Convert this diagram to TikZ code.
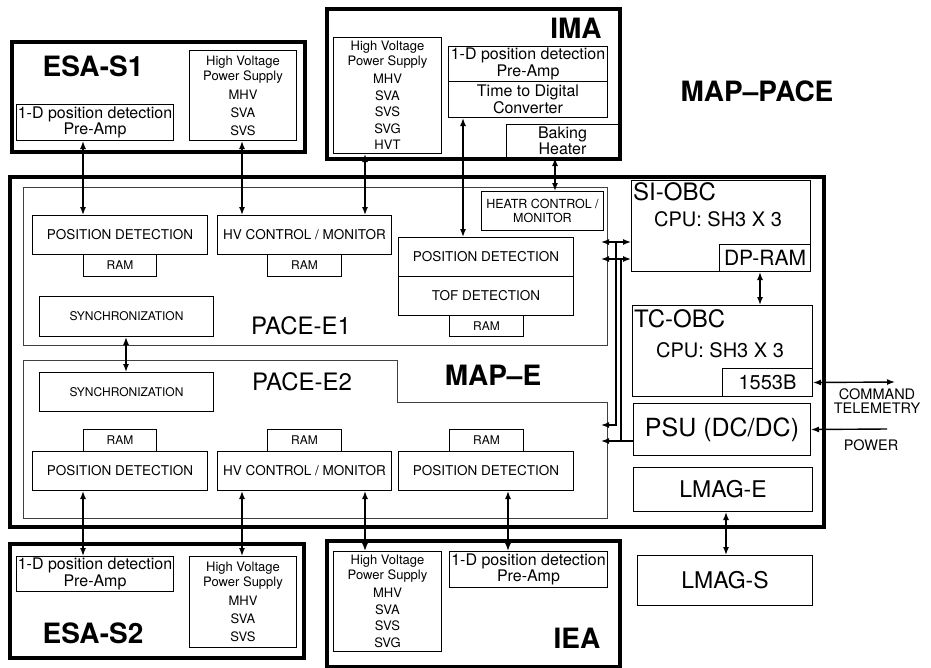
\documentclass[tikz,border=0pt]{standalone}
\usepackage{fontspec}
\setmainfont{TeX Gyre Heros}
\usetikzlibrary{arrows.meta,calc}
\begin{document}
\begin{tikzpicture}[x=1pt,y=-1pt,
 outerbox/.style={draw, line width=3.6pt, inner sep=0pt, anchor=north west},
 box/.style={draw, line width=1pt, inner sep=0pt, anchor=north west, align=center},
 grp/.style={draw=black!75, line width=1pt},
 conn/.style={line width=1.4pt, {Latex[length=8pt,width=6pt]}-{Latex[length=8pt,width=6pt]}},
 oneway/.style={line width=1.4pt, -{Latex[length=8pt,width=6pt]}},
 plainline/.style={line width=1.4pt},
 ttl/.style={font=\fontsize{28}{30}\selectfont\bfseries, inner sep=0pt},
 fmid/.style={font=\fontsize{13.5}{15}\selectfont},
 fsmall/.style={font=\fontsize{12}{14}\selectfont},
 fpre/.style={font=\fontsize{16}{16.5}\selectfont},
 fhv/.style={font=\fontsize{13}{15}\selectfont},
 fbig/.style={font=\fontsize{21}{24}\selectfont},
 fhuge/.style={font=\fontsize{24}{26}\selectfont},
 fext/.style={font=\fontsize{14.5}{14}\selectfont, align=center, inner sep=0pt}
]
\useasboundingbox (0,0) rectangle (931,667);

% ---------- ESA-S1 ----------
\node[outerbox, minimum width=293pt, minimum height=110pt] (esa1) at (10,40) {};
\node[ttl] (esa1lbl) at (93,66) {ESA-S1};
\node[box, fpre, minimum width=157pt, minimum height=36pt] (esa1pre) at (16,104) {1-D position detection\\Pre-Amp};
\node[box, fhv, minimum width=107pt, minimum height=90pt] (esa1hv) at (189,50) {High Voltage\\Power Supply\\[4pt]MHV\\[3pt]SVA\\[3pt]SVS};

% ---------- IMA ----------
\node[outerbox, minimum width=293pt, minimum height=150pt] (ima) at (325,7) {};
\node[ttl] (imalbl) at (576,28) {IMA};
\node[box, fhv, minimum width=108pt, minimum height=116pt] (imahv) at (333,37) {High Voltage\\Power Supply\\[3pt]MHV\\[1.5pt]SVA\\[1.5pt]SVS\\[1.5pt]SVG\\[1.5pt]HVT};
\node[box, fpre, minimum width=159pt, minimum height=35pt] (imapre) at (448,46) {1-D position detection\\Pre-Amp};
\node[box, fpre, minimum width=159pt, minimum height=36pt] (imatdc) at (448,81) {Time to Digital\\Converter};
\node[box, fpre, minimum width=112pt, minimum height=33pt] (imabake) at (506,124) {Baking\\Heater};

\node[ttl] (mappace) at (757,91) {MAP{\normalfont\bfseries--}PACE};

% ---------- MAP-E ----------
\node[outerbox, minimum width=814pt, minimum height=350pt] (mape) at (8,175) {};
\node[ttl] (mapelbl) at (493,375) {MAP--E};

% PACE-E1
\draw[grp] (23,187) rectangle (607,345);
\node[fhuge, inner sep=0pt] (pace1lbl) at (301,326) {PACE-E1};
\node[box, fmid, minimum width=175pt, minimum height=39pt] (pd1) at (32,215) {POSITION DETECTION};
\node[box, fsmall, minimum width=73pt, minimum height=22pt] (ram1) at (83,254) {RAM};
\node[box, fmid, minimum width=174pt, minimum height=39pt] (hv1) at (217,215) {HV CONTROL / MONITOR};
\node[box, fsmall, minimum width=74pt, minimum height=22pt] (ram2) at (267,254) {RAM};
\node[box, fsmall, minimum width=174pt, minimum height=40pt] (sync1) at (39,296) {SYNCHRONIZATION};
\node[box, font=\fontsize{12.5}{13.5}\selectfont, minimum width=122pt, minimum height=39pt] (heatr) at (481,191) {HEATR CONTROL /\\MONITOR};
\node[box, fmid, minimum width=175pt, minimum height=39pt] (pos1) at (398,237) {POSITION DETECTION};
\node[box, fmid, minimum width=175pt, minimum height=39pt] (tof1) at (398,276) {TOF DETECTION};
\node[box, fsmall, minimum width=74pt, minimum height=21pt] (ram3) at (449,315) {RAM};

% PACE-E2
\draw[grp] (23,360) -- (397,360) -- (397,402) -- (607,402) -- (607,518) -- (23,518) -- cycle;
\node[fhuge, inner sep=0pt] (pace2lbl) at (302,382) {PACE-E2};
\node[box, fsmall, minimum width=174pt, minimum height=39pt] (sync2) at (39,372) {SYNCHRONIZATION};
\node[box, fsmall, minimum width=73pt, minimum height=22pt] (ram4) at (83,429) {RAM};
\node[box, fmid, minimum width=175pt, minimum height=39pt] (pd2) at (32,451) {POSITION DETECTION};
\node[box, fsmall, minimum width=74pt, minimum height=22pt] (ram5) at (267,429) {RAM};
\node[box, fmid, minimum width=174pt, minimum height=39pt] (hv2) at (217,451) {HV CONTROL / MONITOR};
\node[box, fsmall, minimum width=74pt, minimum height=22pt] (ram6) at (449,429) {RAM};
\node[box, fmid, minimum width=175pt, minimum height=39pt] (pd3) at (398,451) {POSITION DETECTION};

% SI-OBC
\node[box, minimum width=179pt, minimum height=91pt] (siobc) at (631,180) {};
\node[fhuge, anchor=west, inner sep=0pt] (siobclbl) at (633,192) {SI-OBC};
\node[font=\fontsize{20}{22}\selectfont, inner sep=0pt] (sicpu) at (718,219) {CPU: SH3 X 3};
\node[box, fbig, minimum width=91pt, minimum height=27pt] (dpram) at (719,244) {DP-RAM};

% TC-OBC
\node[box, minimum width=180pt, minimum height=91pt] (tcobc) at (632,305) {};
\node[fhuge, anchor=west, inner sep=0pt] (tcobclbl) at (634,319) {TC-OBC};
\node[font=\fontsize{20}{22}\selectfont, inner sep=0pt] (tccpu) at (720,350) {CPU: SH3 X 3};
\node[box, font=\fontsize{20}{22}\selectfont, minimum width=90pt, minimum height=28pt] (b1553) at (722,368) {1553B};

\node[box, font=\fontsize{25}{27}\selectfont, minimum width=177pt, minimum height=52pt] (psu) at (633,403) {PSU (DC/DC)};
\node[box, font=\fontsize{23}{25}\selectfont, minimum width=179pt, minimum height=44pt] (lmage) at (633,467) {LMAG-E};
\node[box, font=\fontsize{23}{25}\selectfont, minimum width=175pt, minimum height=50pt] (lmags) at (637,555) {LMAG-S};

% ---------- ESA-S2 ----------
\node[outerbox, minimum width=294pt, minimum height=114pt] (esa2) at (8,542) {};
\node[ttl] (esa2lbl) at (93,633) {ESA-S2};
\node[box, fpre, minimum width=157pt, minimum height=35pt] (esa2pre) at (16,556) {1-D position detection\\Pre-Amp};
\node[box, fhv, minimum width=107pt, minimum height=91pt] (esa2hv) at (189,556) {High Voltage\\Power Supply\\[4pt]MHV\\[3pt]SVA\\[3pt]SVS};

% ---------- IEA ----------
\node[outerbox, minimum width=293pt, minimum height=126pt] (iea) at (325,539) {};
\node[ttl] (iealbl) at (577,638) {IEA};
\node[box, fhv, minimum width=108pt, minimum height=100pt] (ieahv) at (333,551) {High Voltage\\Power Supply\\[3pt]MHV\\[1.5pt]SVA\\[1.5pt]SVS\\[1.5pt]SVG};
\node[box, fpre, minimum width=158pt, minimum height=36pt] (ieapre) at (449,551) {1-D position detection\\Pre-Amp};

% ---------- external labels ----------
\node[fext] (cmdlbl) at (877,401) {COMMAND\\TELEMETRY};
\node[fext] (pwrlbl) at (871,445) {POWER};

% ---------- connector coordinates ----------
\coordinate (cA) at (83,0);
\coordinate (cB) at (242,0);
\coordinate (cC) at (365,0);
\coordinate (cD) at (463,0);
\coordinate (cE) at (555,0);
\coordinate (cF) at (126,0);
\coordinate (cG) at (508,0);
\coordinate (cH) at (760,0);
\coordinate (cI) at (726,0);
\coordinate (busL) at (601,0);
\coordinate (ya) at (0,242);
\coordinate (yb) at (0,259);
\coordinate (v1) at (616,242);
\coordinate (v2) at (621,259);
\coordinate (t1) at (601,425);
\coordinate (t2) at (601,441);
\coordinate (cmd) at (895,382);
\coordinate (pw) at (887,429);

\draw[conn] (esa1pre.south -| cA) -- (pd1.north -| cA);
\draw[conn] (esa1hv.south -| cB) -- (hv1.north -| cB);
\draw[conn] (imahv.south -| cC) -- (hv1.north -| cC);
\draw[conn] (imatdc.south -| cD) -- (pos1.north -| cD);
\draw[conn] (imabake.south -| cE) -- (heatr.north -| cE);
\draw[conn] (sync1.south -| cF) -- (sync2.north -| cF);
\draw[conn] (pd2.south -| cA) -- (esa2pre.north -| cA);
\draw[conn] (hv2.south -| cB) -- (esa2hv.north -| cB);
\draw[conn] (hv2.south -| cC) -- (ieahv.north -| cC);
\draw[conn] (pd3.south -| cG) -- (ieapre.north -| cG);
\draw[conn] (dpram.south -| cH) -- (tcobc.north -| cH);
\draw[conn] (lmage.south -| cI) -- (lmags.north -| cI);

\draw[conn] (busL |- ya) -- (siobc.west |- ya);
\draw[conn] (busL |- yb) -- (siobc.west |- yb);
\draw[oneway] (v1) |- (t1);
\draw[plainline] (v2) -- (v2 |- t2);
\draw[oneway] (psu.west |- t2) -- (t2);

\draw[conn] (b1553.east) -- (cmd);
\draw[oneway] (pw) -- (psu.east);
\end{tikzpicture}
\end{document}
